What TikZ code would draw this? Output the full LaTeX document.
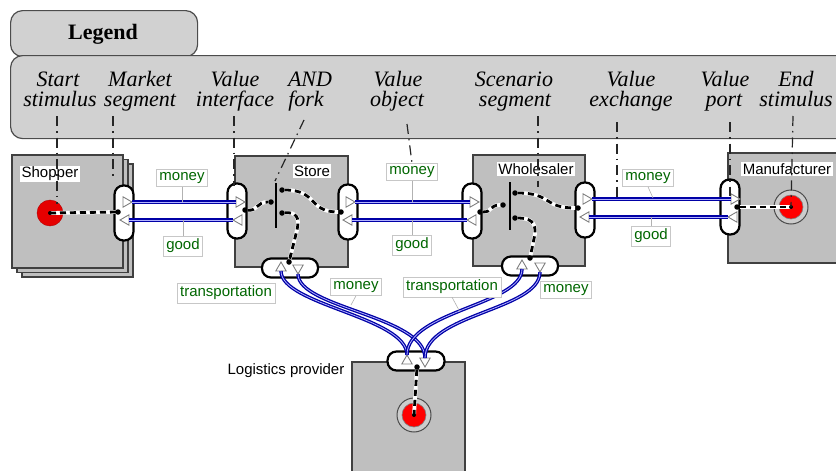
\documentclass[tikz,border=0pt]{standalone}
\usepackage{fontspec}
\setmainfont{Liberation Serif}
\setsansfont{Liberation Sans}
\usetikzlibrary{shapes.geometric}
\begin{document}
\begin{tikzpicture}[x=1pt,y=-1pt,
 actor/.style={draw=black!75, line width=1.8pt, fill=black!25, inner sep=0, outer sep=0},
 viface/.style={draw=black, line width=2.2pt, fill=white, minimum width=19pt, minimum height=55pt, rounded corners=9pt, inner sep=0},
 hiface/.style={draw=black, line width=2.2pt, fill=white, minimum width=56pt, minimum height=19pt, rounded corners=9pt, inner sep=0},
 port/.style={regular polygon, regular polygon sides=3, draw=black!50, fill=white, line width=0.9pt, minimum size=12pt, inner sep=0, outer sep=0},
 pR/.style={port, shape border rotate=-90},
 pL/.style={port, shape border rotate=90},
 pU/.style={port},
 pD/.style={port, shape border rotate=180},
 xch/.style={draw=blue!65!black, line width=1.3pt, double=blue!30!white, double distance=0.8pt},
 dep/.style={draw=black, line width=2.8pt, dash pattern=on 6pt off 4pt, preaction={draw=white, line width=3.8pt, solid}},
 dot/.style={circle, fill=black, inner sep=0, minimum size=5.5pt},
 andbar/.style={fill=black, inner sep=0, minimum width=1.8pt},
 vlab/.style={draw=black!22, fill=white, text=green!40!black, font=\sffamily\fontsize{15}{16}\selectfont, inner xsep=3pt, inner ysep=3pt},
 lconn/.style={draw=black!30, line width=0.6pt},
 aname/.style={fill=white, inner sep=1.5pt, font=\sffamily\fontsize{15}{16}\selectfont, text=black},
 leg/.style={font=\fontsize{22}{22}\selectfont\itshape, inner sep=0, anchor=base},
 legbox/.style={draw=black!70, line width=1.2pt, fill=black!18, rounded corners=12pt, inner sep=0, anchor=north west},
 ptr/.style={draw=black!85, line width=1.2pt, dash pattern=on 10pt off 5pt on 1.5pt off 5pt},
 startstim/.style={circle, fill=red!90!black, draw=red!70!black, minimum size=26pt, inner sep=0},
 ringstim/.style={circle, fill=black!20, draw=black!70, line width=1pt, minimum size=34pt, inner sep=0},
 redstim/.style={circle, fill=red, draw=black!50, line width=0.6pt, minimum size=24pt, inner sep=0}
]
\clip (0,0) rectangle (836,471);
\fill[white] (0,0) rectangle (836,471);

% ---------- legend ----------
\node[legbox, minimum width=187pt, minimum height=46pt] (legtab) at (10,10) {};
\node[legbox, minimum width=850pt, minimum height=83pt] (legbody) at (10,55) {};
\node[font=\bfseries\fontsize{22}{22}\selectfont, anchor=base, inner sep=0] (legtitle) at (103,39) {Legend};

\node[leg] (l1a) at (58,86) {Start};      \node[leg] (l1b) at (60,106) {stimulus};
\node[leg] (l2a) at (140,86) {Market};    \node[leg] (l2b) at (140,106) {segment};
\node[leg] (l3a) at (235,86) {Value};     \node[leg] (l3b) at (235,106) {interface};
\node[leg] (l4a) at (310,86) {AND};       \node[leg] (l4b) at (306,106) {fork};
\node[leg] (l5a) at (398,86) {Value};     \node[leg] (l5b) at (397,106) {object};
\node[leg] (l6a) at (514,86) {Scenario};  \node[leg] (l6b) at (515,106) {segment};
\node[leg] (l7a) at (631,86) {Value};     \node[leg] (l7b) at (631,106) {exchange};
\node[leg] (l8a) at (725,86) {Value};     \node[leg] (l8b) at (724,106) {port};
\node[leg] (l9a) at (796,86) {End};       \node[leg] (l9b) at (796,106) {stimulus};

% ---------- actors ----------
\node[actor, minimum width=111pt, minimum height=113pt] (shopB3) at (77.5,220.5) {};
\node[actor, minimum width=111pt, minimum height=113pt] (shopB2) at (72.5,216) {};
\node[actor, minimum width=111pt, minimum height=113pt] (shop) at (67.5,211.5) {};
\node[actor, minimum width=113pt, minimum height=111pt] (store) at (291.5,211.5) {};
\node[actor, minimum width=112pt, minimum height=111pt] (whole) at (529,210.5) {};
\node[actor, minimum width=122pt, minimum height=110pt] (manu) at (789,208) {};
\node[actor, minimum width=113pt, minimum height=118pt] (logi) at (408.5,421) {};

\node[aname] (nShop) at (50,174) {Shopper};
\node[aname] (nStore) at (312,171) {Store};
\node[aname] (nWhole) at (536,169) {Wholesaler};
\node[aname] (nManu) at (787,169) {Manufacturer};
\node[aname, fill=none] (nLogi) at (286,371) {Logistics provider};

% ---------- stimuli ----------
\node[startstim] (sStart) at (50,213) {};
\node[ringstim] (eRing) at (791,207) {};
\node[redstim] (eStim) at (791,207) {};
\node[ringstim] (lRing) at (414,415) {};
\node[redstim] (lStim) at (414,415) {};

% ---------- interfaces ----------
\node[viface] (spI) at (124,213) {};
\node[viface] (stL) at (237,211) {};
\node[viface] (stR) at (348,212) {};
\node[hiface] (stB) at (290,268) {};
\node[viface] (whL) at (472,211) {};
\node[viface] (whR) at (585,210) {};
\node[hiface] (whB) at (530,266) {};
\node[viface] (mfI) at (730,207) {};
\node[hiface, minimum width=57pt] (lgT) at (416,361) {};

% ---------- ports ----------
\node[pR] (spM) at (126,202) {};  \node[pL] (spG) at (126,220) {};
\node[pR] (stLM) at (239,202) {}; \node[pL] (stLG) at (239,220) {};
\node[pR] (stRM) at (349,202) {}; \node[pL] (stRG) at (349,220) {};
\node[pR] (whLM) at (473,202) {}; \node[pL] (whLG) at (473,220) {};
\node[pR] (whRM) at (586,199) {}; \node[pL] (whRG) at (586,217) {};
\node[pR] (mfM) at (734,199) {};  \node[pL] (mfG) at (734,217) {};
\node[pU] (stBT) at (281,268) {}; \node[pD] (stBM) at (298,268) {};
\node[pU] (whBT) at (522,266) {}; \node[pD] (whBM) at (540,266) {};
\node[pU] (lgU) at (407,361) {};  \node[pD] (lgD) at (425,361) {};

% ---------- value exchanges ----------
\draw[xch] (spM.east) -- (stLM.west);
\draw[xch] (stLG.west) -- (spG.east);
\draw[xch] (stRM.east) -- (whLM.west);
\draw[xch] (whLG.west) -- (stRG.east);
\draw[xch] (whRM.east) -- (mfM.west);
\draw[xch] (mfG.west) -- (whRG.east);
\draw[xch] (lgU.north) .. controls +(0,-38) and +(0,34) .. (stBT.south);
\draw[xch] (stBM.south) .. controls +(0,34) and +(0,-42) .. (lgD.north);
\draw[xch] (lgU.north) .. controls +(0,-44) and +(0,36) .. (whBT.south);
\draw[xch] (whBM.south) .. controls +(0,38) and +(0,-44) .. (lgD.north);

% ---------- AND forks ----------
\node[andbar, minimum height=45pt] (stAnd) at (276,205) {};
\node[andbar, minimum height=48pt] (whAnd) at (510,206) {};

% ---------- dependency paths ----------
\coordinate (spd) at (118,212);
\draw[dep] (sStart.center) -- (spd);
\node[dot] (spdD) at (spd) {};
\node[dot, minimum size=4pt] (sStartD) at (sStart.center) {};

\node[dot] (stLd) at (245,210) {};
\node[dot] (stIn) at (271,202) {};
\node[dot] (stO1) at (282,190) {};
\node[dot] (stO2) at (282,213) {};
\node[dot] (stRd) at (341,212) {};
\node[dot] (stBd) at (289,262) {};
\draw[dep] (stLd) .. controls (258,211) and (256,202) .. (stIn);
\draw[dep] (stO1) .. controls (318,190) and (308,212) .. (stRd);
\draw[dep] (stO2) .. controls (296,212) and (300,217) .. (297,230) -- (stBd);

\node[dot] (whLd) at (480,212) {};
\node[dot] (whIn) at (503,205) {};
\node[dot] (whO1) at (515,193) {};
\node[dot] (whO2) at (515,218) {};
\node[dot] (whRd) at (578,208) {};
\node[dot] (whBd) at (530,258) {};
\draw[dep] (whLd) .. controls (493,212) and (489,205) .. (whIn);
\draw[dep] (whO1) .. controls (552,193) and (543,208) .. (whRd);
\draw[dep] (whO2) .. controls (530,218) and (536,222) .. (535,234) -- (whBd);

\node[dot] (mfd) at (737,207) {};
\draw[dep] (mfd) -- (eStim.center);
\node[dot, minimum size=4pt] (eStimD) at (eStim.center) {};

\node[dot] (lgd) at (417,367) {};
\draw[dep] (lgd) -- (lStim.center);
\node[dot, minimum size=4pt] (lStimD) at (lStim.center) {};

% ---------- value objects (labels) ----------
\node[vlab] (money1) at (182,178) {money};
\node[vlab] (good1) at (183,246) {good};
\node[vlab] (money2) at (412,172) {money};
\node[vlab] (good2) at (412,245) {good};
\node[vlab] (money3) at (648,178) {money};
\node[vlab] (good3) at (651,236) {good};
\node[vlab] (trans1) at (226,293) {transportation};
\node[vlab] (money4) at (356,287) {money};
\node[vlab] (trans2) at (452,287) {transportation};
\node[vlab] (money5) at (566,290) {money};

\draw[lconn] (money1.south) -- (money1.south |- spM.east);
\draw[lconn] (good1.north) -- (good1.north |- spG.east);
\draw[lconn] (money2.south) -- (money2.south |- stRM.east);
\draw[lconn] (good2.north) -- (good2.north |- stRG.east);
\coordinate (m3c) at (653,198);
\draw[lconn] (money3.south) -- (m3c);
\draw[lconn] (good3.north) -- (good3.north |- whRG.east);
\coordinate (m4c) at (351,305);
\draw[lconn] (money4.south) -- (m4c);
\coordinate (t2c) at (460,312);
\draw[lconn] (trans2.south) -- (t2c);

% ---------- legend pointers ----------
\coordinate (q1) at (57,116);  \coordinate (r1) at (57,204);
\coordinate (q2) at (113,116); \coordinate (r2) at (113,177);
\coordinate (q3) at (234,116); \coordinate (r3) at (234,186);
\coordinate (q4) at (304,120); \coordinate (r4) at (275,181);
\coordinate (q5) at (407,124);
\coordinate (q6) at (538,116); \coordinate (r6) at (538,187);
\coordinate (q7) at (617,122); \coordinate (r7) at (617,199);
\coordinate (q8) at (730,122); \coordinate (r8) at (730,196);
\coordinate (q9) at (793,116);
\draw[ptr] (q1) -- (r1);
\draw[ptr] (q2) -- (r2);
\draw[ptr] (q3) -- (r3);
\draw[ptr] (q4) -- (r4);
\draw[ptr] (q5) -- (money2.north);
\draw[ptr] (q6) -- (r6);
\draw[ptr] (q7) -- (r7);
\draw[ptr] (q8) -- (r8);
\draw[ptr] (q9) -- (eStim.center);
\end{tikzpicture}
\end{document}
